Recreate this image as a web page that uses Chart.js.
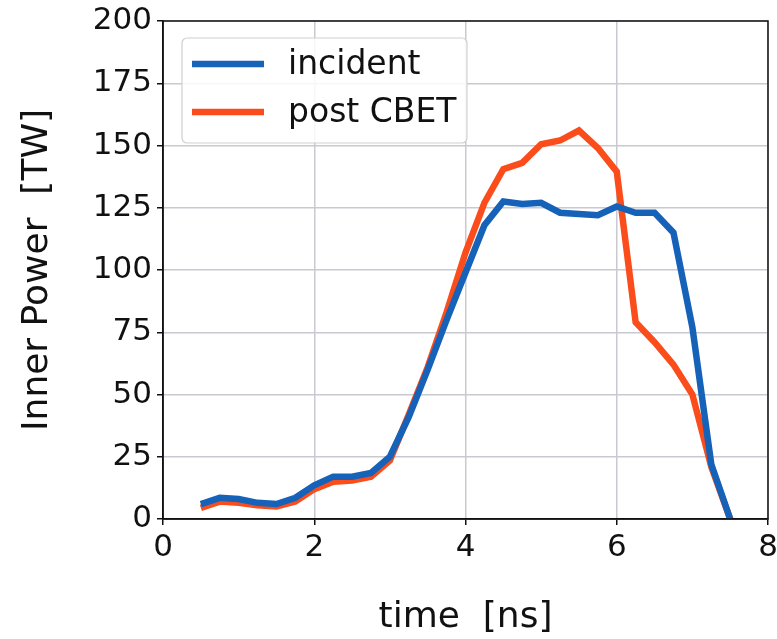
<!DOCTYPE html>
<html>
<head>
<meta charset="utf-8">
<script src="https://cdn.jsdelivr.net/npm/chart.js@4.4.1/dist/chart.umd.min.js"></script>
<style>
  html, body { margin: 0; padding: 0; background: #ffffff; }
  #wrap { width: 777px; height: 639px; }
</style>
</head>
<body>
<div id="wrap"><canvas id="myChart" width="777" height="639"></canvas></div>
<script>
// time axis (ns)
const timeNs = [0.5, 0.75, 1.0, 1.25, 1.5, 1.75, 2.0, 2.25, 2.5, 2.75, 3.0, 3.25, 3.5, 3.75, 4.0,
    4.25, 4.5, 4.75, 5.0, 5.25, 5.5, 5.75, 6.0, 6.25, 6.5, 6.75, 7.0, 7.25, 7.5];
// inner power (TW)
const incident = [6, 8.5, 8, 6.5, 6, 8.5, 13.5, 17, 17, 18.5, 25, 41, 60, 80, 99,
    118, 127.5, 126.5, 127, 123, 122.5, 122, 125.5, 123, 123, 115, 77, 22, 0];
const postCbet = [4.5, 7, 6.5, 5.5, 5, 7, 12, 15, 15.5, 17, 23.5, 42, 61, 83, 107,
    127, 140.5, 143, 150.5, 152, 156, 149, 139.5, 79, 71, 62, 50, 21, 0];
const xTicks = [0, 2, 4, 6, 8];
const yTicks = [0, 25, 50, 75, 100, 125, 150, 175, 200];
const seriesNames = ['incident', 'post CBET'];
const seriesColors = ['#1662b8', '#fb4d1c'];

const FONT = "'DejaVu Sans', sans-serif";

let toPoints = function (xs, ys) {
    let pts = [];
    for (var i = 0; i < xs.length; i++) {
        pts.push({ x: xs[i], y: ys[i] });
    }
    return pts;
}

// box round the plot, like matplotlib spines
const framePlugin = {
    id: 'frame',
    afterDraw(chart) {
        const { ctx, chartArea: a } = chart;
        ctx.save();
        ctx.strokeStyle = '#111';
        ctx.lineWidth = 1.5;
        ctx.strokeRect(a.left, a.top, a.right - a.left, a.bottom - a.top);
        ctx.restore();
    }
};

// legend sitting inside the axes, upper left
const insideLegend = {
    id: 'insideLegend',
    afterDatasetsDraw(chart) {
        const ctx = chart.ctx;
        const x = 182, y = 38, w = 285, h = 105, r = 5;
        ctx.save();
        ctx.beginPath();
        ctx.roundRect(x, y, w, h, r);
        ctx.fillStyle = 'rgba(255,255,255,0.85)';
        ctx.fill();
        ctx.strokeStyle = '#d0d0d0';
        ctx.lineWidth = 1.2;
        ctx.stroke();

        ctx.font = '33px ' + FONT;
        ctx.textBaseline = 'middle';
        ctx.textAlign = 'left';
        chart.data.datasets.forEach(function (ds, i) {
            let ly = 64 + i * 48;
            ctx.strokeStyle = ds.borderColor;
            ctx.lineWidth = 6.5;
            ctx.beginPath();
            ctx.moveTo(192, ly);
            ctx.lineTo(264, ly);
            ctx.stroke();
            ctx.fillStyle = '#111';
            ctx.fillText(ds.label, 288, ly + 1);
        });
        ctx.restore();
    }
};

const ctx = document.getElementById('myChart').getContext('2d');

let myChart = new Chart(ctx, {
    type: 'line',
    data: {
        datasets: [{
            label: seriesNames[0],
            data: toPoints(timeNs, incident),
            borderColor: seriesColors[0],
            backgroundColor: seriesColors[0],
            borderWidth: 6.5,
            pointRadius: 0,
            tension: 0,
            fill: false
        }, {
            label: seriesNames[1],
            data: toPoints(timeNs, postCbet),
            borderColor: seriesColors[1],
            backgroundColor: seriesColors[1],
            borderWidth: 6.5,
            pointRadius: 0,
            tension: 0,
            fill: false
        }]
    },
    options: {
        responsive: false,
        animation: false,
        devicePixelRatio: 1,
        layout: {
            padding: { top: 21, right: 9, left: 0, bottom: 0 }
        },
        plugins: {
            legend: { display: false },
            tooltip: { enabled: false }
        },
        scales: {
            x: {
                type: 'linear',
                min: 0,
                max: 8,
                afterBuildTicks: function (scale) {
                    scale.ticks = xTicks.map(v => ({ value: v }));
                },
                afterFit: function (scale) {
                    scale.height = 120;
                    scale.paddingLeft = 0;
                    scale.paddingRight = 0;
                },
                ticks: {
                    color: '#111',
                    font: { family: FONT, size: 31 },
                    padding: 4,
                    maxRotation: 0
                },
                grid: {
                    color: '#c9c9d2',
                    lineWidth: 1.5,
                    tickColor: '#111',
                    tickLength: 6
                },
                border: { color: '#111', width: 1.5 },
                title: {
                    display: true,
                    text: 'time  [ns]',
                    color: '#111',
                    font: { family: FONT, size: 36 },
                    padding: { top: 0, bottom: 0 }
                }
            },
            y: {
                type: 'linear',
                min: 0,
                max: 200,
                afterBuildTicks: function (scale) {
                    scale.ticks = yTicks.map(v => ({ value: v }));
                },
                afterFit: function (scale) {
                    scale.width = 163;
                    scale.paddingTop = 0;
                    scale.paddingBottom = 0;
                },
                ticks: {
                    color: '#111',
                    font: { family: FONT, size: 31 },
                    padding: 5
                },
                grid: {
                    color: '#c9c9d2',
                    lineWidth: 1.5,
                    tickColor: '#111',
                    tickLength: 6
                },
                border: { color: '#111', width: 1.5 },
                title: {
                    display: true,
                    text: 'Inner Power  [TW]',
                    color: '#111',
                    font: { family: FONT, size: 36 },
                    padding: { top: 16, bottom: 0 }
                }
            }
        }
    },
    plugins: [framePlugin, insideLegend]
});
</script>
</body>
</html>
